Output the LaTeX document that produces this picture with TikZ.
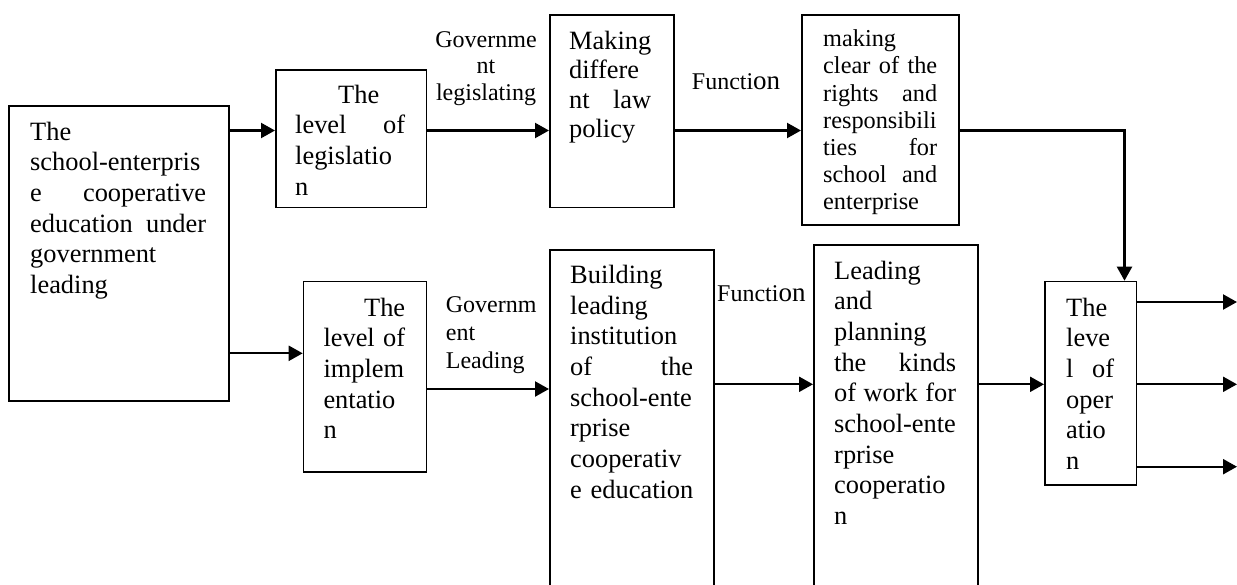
\documentclass[tikz,border=0pt]{standalone}
\usepackage{fontspec}
\setmainfont{Liberation Serif}
\usetikzlibrary{arrows.meta}
\begin{document}
\begin{tikzpicture}[x=1pt,y=-1pt,
 box/.style={draw, line width=1.6pt, inner sep=0pt, anchor=north west},
 body/.style={inner sep=0pt, anchor=base west, align=left,
   font={\fontsize{26.4}{30.7}\selectfont\hyphenpenalty10000\exhyphenpenalty10000\relax}},
 bodyc/.style={body, font={\fontsize{26.4}{29.5}\selectfont\hyphenpenalty10000\exhyphenpenalty10000\relax}},
 small/.style={body, font={\fontsize{24.3}{27.2}\selectfont\hyphenpenalty10000\exhyphenpenalty10000\relax}},
 lbl/.style={inner sep=0pt, anchor=base west, align=left},
 arr/.style={line width=2.2pt, -{Triangle[length=14pt,width=15pt]}}]
\useasboundingbox (0,0) rectangle (1237,584);
\clip (0,0) rectangle (1237,584);

% boxes
\node[box, minimum width=220pt, minimum height=295pt] (A) at (8,105) {};
\node[box, minimum width=150.7pt, minimum height=137.7pt] (B) at (275,69) {};
\node[box, minimum width=124.3pt, minimum height=192.7pt] (C) at (549,14) {};
\node[box, minimum width=157pt, minimum height=210pt] (D) at (801,14) {};
\node[box, minimum width=123pt, minimum height=190.3pt] (B2) at (302.7,280.7) {};
\node[box, minimum width=164pt, minimum height=360pt] (E) at (549,249) {};
\node[box, minimum width=164pt, minimum height=360pt] (F) at (813,244) {};
\node[box, minimum width=91.6pt, minimum height=203.3pt] (G) at (1044,280.7) {};

% box texts
\node[body, text width=176pt] (tA) at (30,140) {The\\school-enterpris\\e\hfill cooperative\\education\hfill under\\government\\leading};
\node[body, text width=110pt] (tB) at (295,103) {\hspace*{43pt}The\\level\hfill of\\legislatio\\n};
\node[bodyc, text width=82pt] (tC) at (569,49) {Making\\differe\\nt\hfill law\\policy};
\node[small, text width=114pt] (tD) at (823,46.7) {making\\clear\hfill of\hfill the\\rights\hfill and\\responsibili\\ties\hfill for\\school\hfill and\\enterprise};
\node[body, text width=81.7pt] (tB2) at (323.3,316) {\hspace*{\fill}The\\level\hfill of\\implem\\entatio\\n};
\node[body, text width=123pt] (tE) at (570,283.3) {Building\\leading\\institution\\of\hfill the\\school-ente\\rprise\\cooperativ\\\mbox{e education}};
\node[body, text width=122pt] (tF) at (834,279) {Leading\\and\\planning\\the\hfill kinds\\of\hfill work\hfill for\\school-ente\\rprise\\cooperatio\\n};
\node[body, text width=48pt] (tG) at (1066,316) {The\\leve\\l\hfill of\\oper\\atio\\n};

% labels (base anchor = last line)
\node[lbl, anchor=base, align=center, font={\fontsize{24}{26.5}\selectfont}] (L1) at (486,100) {Governme\\nt\\legislating};
\node[lbl, font={\fontsize{24}{27.8}\selectfont}] (L2) at (445.7,368.3) {Governm\\ent\\Leading};
\node[lbl, font={\fontsize{24}{27}\selectfont}] (F1) at (691.7,89) {Functi{\fontsize{27}{27}\selectfont on}};
\node[lbl, font={\fontsize{24}{27}\selectfont}] (F2) at (717,301.7) {Functi{\fontsize{27}{27}\selectfont on}};

% level coordinates
\coordinate (ya) at (0,130.5);
\coordinate (yb) at (0,353.3);
\coordinate (yc) at (0,389);
\coordinate (yd) at (0,384.3);
\coordinate (xd) at (1124.5,0);
\coordinate (o1) at (1237,302);
\coordinate (o2) at (1237,384.3);
\coordinate (o3) at (1237,466.7);

% connectors
\draw[arr] (A.east |- ya) -- (B.west |- ya);
\draw[arr] (A.east |- yb) -- (B2.west |- yb);
\draw[arr] (B.east |- ya) -- (C.west |- ya);
\draw[arr] (C.east |- ya) -- (D.west |- ya);
\draw[arr] (D.east |- ya) -- (xd |- ya) -- (xd |- G.north);
\draw[arr] (B2.east |- yc) -- (E.west |- yc);
\draw[arr] (E.east |- yd) -- (F.west |- yd);
\draw[arr] (F.east |- yd) -- (G.west |- yd);
\draw[arr] (G.east |- o1) -- (o1);
\draw[arr] (G.east |- o2) -- (o2);
\draw[arr] (G.east |- o3) -- (o3);
\end{tikzpicture}
\end{document}
